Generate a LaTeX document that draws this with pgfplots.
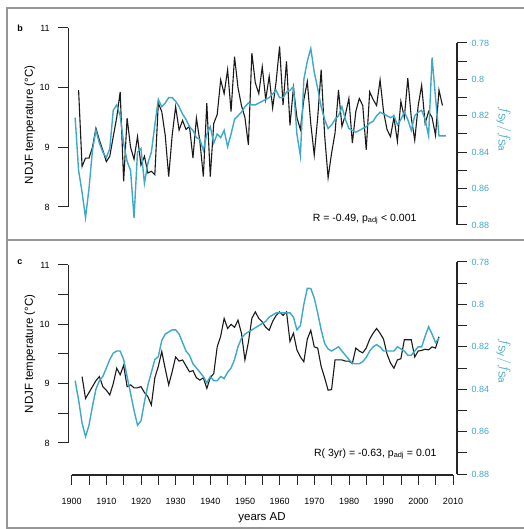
\documentclass[border=0pt]{standalone}
\usepackage{fontspec}
\setmainfont{Liberation Sans}
\usepackage{pgfplots}
\pgfplotsset{compat=1.18}
\definecolor{cy}{RGB}{62,168,200}
\definecolor{frm}{RGB}{150,150,150}

\pgfplotsset{
  base/.style={
    scale only axis, width=388.8pt,
    xmin=1899, xmax=2011.2,
    axis x line=none,
    tick align=outside,
    major tick length=10pt,
    axis line style={black!85, line width=1.1pt},
    every tick/.style={black!85, line width=1pt},
    tick label style={font=\fontsize{9}{10}\selectfont},
    /pgf/number format/assume math mode=true,
    anchor=south west,
  },
  tleft/.style={base, axis y line*=left, ymin=8, ymax=11, ytick={8,9,10,11},
    yticklabel style={xshift=-5pt}},
  cleft/.style={base, axis y line*=left, ymin=8, ymax=11,
    ytick={8,8.5,9,9.5,10,10.5,11}, yticklabels={8,,9,,10,,11},
    yticklabel style={xshift=-5pt}},
  tright/.style={base, axis y line*=right, ymin=0.78, ymax=0.88, y dir=reverse,
    ytick={0.78,0.79,0.8,0.81,0.82,0.83,0.84,0.85,0.86,0.87,0.88},
    yticklabels={0.78,,0.8,,0.82,,0.84,,0.86,,0.88},
    yticklabel style={cy, xshift=1pt}},
  blk/.style={black!90, line width=1.1pt},
  cyl/.style={cy, line width=1.4pt},
}

\begin{document}
\begin{tikzpicture}
\useasboundingbox (0pt,0pt) rectangle (523pt,529pt);
\draw[frm, line width=1.6pt] (7pt,1pt) rectangle (530pt,521pt);
\draw[frm, line width=1.6pt] (7pt,289pt) -- (530pt,289pt);

% ---- panel b ----
\begin{axis}[tleft, at={(68.2pt,322pt)}, height=179pt]
\addplot[blk] coordinates {
(1902,9.96)(1903,8.68)(1904,8.82)(1905,8.82)(1906,9.0)(1907,9.32)(1908,9.12)
(1909,8.95)(1910,8.76)(1911,8.85)(1912,9.18)(1913,9.5)(1914,9.93)(1915,8.43)
(1916,9.49)(1917,9.0)(1918,8.8)(1919,9.18)(1920,8.7)(1921,8.85)(1922,8.57)
(1923,8.6)(1924,8.54)(1925,9.74)(1926,9.6)(1927,9.2)(1928,8.51)(1929,9.2)
(1930,9.68)(1931,9.29)(1932,9.45)(1933,9.3)(1934,9.35)(1935,8.82)(1936,9.49)
(1937,9.1)(1938,8.51)(1939,9.74)(1940,8.51)(1941,9.40)(1942,9.55)(1943,10.13)
(1944,9.9)(1945,10.30)(1946,9.6)(1947,10.52)(1948,10.0)(1949,9.7)(1950,9.5)
(1951,9.04)(1952,10.58)(1953,10.08)(1954,9.9)(1955,10.35)(1956,9.8)(1957,10.19)
(1958,9.66)(1959,10.1)(1960,10.69)(1961,9.71)(1962,10.44)(1963,9.37)(1964,10.0)
(1965,9.5)(1966,9.3)(1967,9.8)(1968,10.10)(1969,9.4)(1970,8.87)(1971,9.5)
(1972,10.30)(1973,9.2)(1974,8.49)(1975,8.9)(1976,9.24)(1977,9.96)(1978,9.35)
(1979,9.55)(1980,9.82)(1981,9.07)(1982,9.6)(1983,9.82)(1984,9.7)(1985,8.96)
(1986,9.93)(1987,9.8)(1988,9.7)(1989,10.13)(1990,9.6)(1991,9.3)(1992,9.18)
(1993,9.5)(1994,9.10)(1995,9.77)(1996,9.5)(1997,10.16)(1998,9.5)(1999,9.12)
(2000,9.7)(2001,10.04)(2002,9.40)(2003,9.6)(2004,9.5)(2005,9.2)(2006,9.96)
(2007,9.7)};
\end{axis}
\begin{axis}[tright, at={(68.2pt,304pt)}, height=182pt]
\addplot[cyl] coordinates {
(1901,0.821)(1902,0.850)(1903,0.862)(1904,0.876)(1905,0.86)(1906,0.839)
(1907,0.828)(1908,0.835)(1909,0.84)(1910,0.843)(1911,0.838)(1912,0.817)
(1913,0.814)(1914,0.82)(1915,0.835)(1916,0.845)(1917,0.85)(1918,0.876)
(1919,0.84)(1920,0.838)(1921,0.857)(1922,0.846)(1923,0.84)(1924,0.825)
(1925,0.811)(1926,0.815)(1927,0.813)(1928,0.810)(1929,0.81)(1930,0.812)
(1931,0.815)(1932,0.819)(1933,0.822)(1934,0.826)(1935,0.828)(1936,0.832)
(1937,0.833)(1938,0.839)(1939,0.83)(1940,0.826)(1941,0.835)(1942,0.83)
(1943,0.832)(1944,0.828)(1945,0.837)(1946,0.83)(1947,0.822)(1948,0.82)
(1949,0.818)(1950,0.815)(1951,0.813)(1952,0.814)(1953,0.814)(1954,0.813)
(1955,0.812)(1956,0.811)(1957,0.81)(1958,0.808)(1959,0.806)(1960,0.81)
(1961,0.81)(1962,0.807)(1963,0.806)(1964,0.804)(1965,0.83)(1966,0.842)
(1967,0.80)(1968,0.79)(1969,0.783)(1970,0.796)(1971,0.805)(1972,0.815)
(1973,0.822)(1974,0.827)(1975,0.825)(1976,0.822)(1977,0.82)(1978,0.815)
(1979,0.822)(1980,0.827)(1981,0.828)(1982,0.829)(1983,0.828)(1984,0.827)
(1985,0.826)(1986,0.824)(1987,0.823)(1988,0.82)(1989,0.818)(1990,0.819)
(1991,0.82)(1992,0.821)(1993,0.82)(1994,0.825)(1995,0.822)(1996,0.818)
(1997,0.822)(1998,0.828)(1999,0.82)(2000,0.818)(2001,0.817)(2002,0.822)
(2003,0.831)(2004,0.788)(2005,0.81)(2006,0.831)(2007,0.831)(2008,0.831)};
\end{axis}

% ---- panel c ----
\begin{axis}[cleft, at={(68.2pt,86pt)}, height=178pt]
\addplot[blk] coordinates {
(1903,9.12)(1904,8.75)(1905,8.85)(1906,8.95)(1907,9.05)(1908,9.12)(1909,8.95)
(1910,8.89)(1911,8.81)(1912,9.0)(1913,9.26)(1914,9.15)(1915,9.31)(1916,8.95)
(1917,8.98)(1918,8.93)(1919,8.93)(1920,8.95)(1921,8.85)(1922,8.78)(1923,8.64)
(1924,9.1)(1925,9.29)(1926,9.54)(1927,9.25)(1928,8.98)(1929,9.2)(1930,9.45)
(1931,9.38)(1932,9.40)(1933,9.30)(1934,9.20)(1935,9.22)(1936,9.10)(1937,9.06)
(1938,9.10)(1939,8.92)(1940,9.10)(1941,9.17)(1942,9.62)(1943,9.80)(1944,10.10)
(1945,9.93)(1946,10.0)(1947,9.95)(1948,10.07)(1949,9.85)(1950,9.40)(1951,9.7)
(1952,10.10)(1953,10.21)(1954,10.1)(1955,10.04)(1956,9.95)(1957,9.90)(1958,10.05)
(1959,10.15)(1960,10.21)(1961,10.15)(1962,10.21)(1963,9.71)(1964,9.85)(1965,9.57)
(1966,9.45)(1967,9.37)(1968,9.75)(1969,9.90)(1970,9.62)(1971,9.60)(1972,9.29)
(1973,9.10)(1974,8.89)(1975,8.90)(1976,9.40)(1977,9.40)(1978,9.40)(1979,9.38)
(1980,9.38)(1981,9.34)(1982,9.60)(1983,9.55)(1984,9.52)(1985,9.60)(1986,9.75)
(1987,9.85)(1988,9.93)(1989,9.85)(1990,9.75)(1991,9.50)(1992,9.35)(1993,9.26)
(1994,9.40)(1995,9.42)(1996,9.74)(1997,9.74)(1998,9.74)(1999,9.45)(2000,9.55)
(2001,9.56)(2002,9.58)(2003,9.57)(2004,9.62)(2005,9.60)(2006,9.79)};
\end{axis}
\begin{axis}[tright, at={(68.2pt,55pt)}, height=212pt]
\addplot[cyl] coordinates {
(1901,0.836)(1902,0.845)(1903,0.856)(1904,0.8624)(1905,0.857)(1906,0.848)
(1907,0.84)(1908,0.836)(1909,0.834)(1910,0.83)(1911,0.826)(1912,0.823)
(1913,0.822)(1914,0.822)(1915,0.826)(1916,0.834)(1917,0.842)(1918,0.85)
(1919,0.857)(1920,0.855)(1921,0.846)(1922,0.838)(1923,0.832)(1924,0.826)
(1925,0.8247)(1926,0.817)(1927,0.814)(1928,0.813)(1929,0.812)(1930,0.812)
(1931,0.814)(1932,0.818)(1933,0.822)(1934,0.824)(1935,0.828)(1936,0.83)
(1937,0.832)(1938,0.834)(1939,0.837)(1940,0.834)(1941,0.836)(1942,0.836)
(1943,0.834)(1944,0.835)(1945,0.832)(1946,0.830)(1947,0.826)(1948,0.82)
(1949,0.816)(1950,0.814)(1951,0.813)(1952,0.812)(1953,0.811)(1954,0.81)
(1955,0.809)(1956,0.808)(1957,0.806)(1958,0.805)(1959,0.804)(1960,0.804)
(1961,0.804)(1962,0.804)(1963,0.804)(1964,0.806)(1965,0.812)(1966,0.81)
(1967,0.80)(1968,0.7924)(1969,0.7925)(1970,0.797)(1971,0.804)(1972,0.812)
(1973,0.8184)(1974,0.821)(1975,0.822)(1976,0.821)(1977,0.820)(1978,0.822)
(1979,0.824)(1980,0.826)(1981,0.8278)(1982,0.828)(1983,0.828)(1984,0.827)
(1985,0.825)(1986,0.822)(1987,0.82)(1988,0.819)(1989,0.82)(1990,0.822)
(1991,0.822)(1992,0.822)(1993,0.822)(1994,0.82)(1995,0.821)(1996,0.822)
(1997,0.824)(1998,0.824)(1999,0.822)(2000,0.82)(2001,0.82)(2002,0.815)
(2003,0.8105)(2004,0.814)(2005,0.818)(2006,0.816)};
\end{axis}

% ---- shared x axis ----
\begin{axis}[scale only axis, width=381.3pt, height=10pt, anchor=south west,
  at={(71.7pt,54pt)}, xmin=1900, xmax=2010, ymin=0, ymax=1,
  axis x line*=bottom, axis y line=none, tick align=outside,
  xtick={1900,1905,...,2010},
  xticklabels={1900,,1910,,1920,,1930,,1940,,1950,,1960,,1970,,1980,,1990,,2000,,2010},
  major tick length=10pt,
  axis line style={black!85, line width=1.1pt},
  every tick/.style={black!85, line width=1pt},
  tick label style={font=\fontsize{9}{10}\selectfont},
  xticklabel style={yshift=-10pt},
  /pgf/number format/assume math mode=true,
  /pgf/number format/1000 sep={}]
\end{axis}

% ---- texts ----
\node[font=\bfseries\fontsize{9}{10}\selectfont] at (20pt,501pt) {b};
\node[font=\bfseries\fontsize{9}{10}\selectfont] at (20pt,267pt) {c};
\node[rotate=90, font=\fontsize{11.5}{12}\selectfont] at (30pt,404pt) {NDJF temperature (°C)};
\node[rotate=90, font=\fontsize{11.5}{12}\selectfont] at (30pt,175pt) {NDJF temperature (°C)};
\node[rotate=-90, cy, font=\fontsize{14}{15}\selectfont] at (504pt,400pt) {$f_{\mathrm{Sy}}/f_{\mathrm{Sa}}$};
\node[rotate=-90, cy, font=\fontsize{14}{15}\selectfont] at (504pt,168pt) {$f_{\mathrm{Sy}}/f_{\mathrm{Sa}}$};
\node[anchor=east, font=\fontsize{10.5}{11}\selectfont] at (420pt,310pt) {R = -0.49, p$_{\mathrm{adj}}$ < 0.001};
\node[anchor=east, font=\fontsize{10.5}{11}\selectfont] at (440pt,75pt) {R( 3yr) = -0.63, p$_{\mathrm{adj}}$ = 0.01};
\node[font=\fontsize{11.5}{12}\selectfont] at (262pt,11pt) {years AD};
\end{tikzpicture}
\end{document}
